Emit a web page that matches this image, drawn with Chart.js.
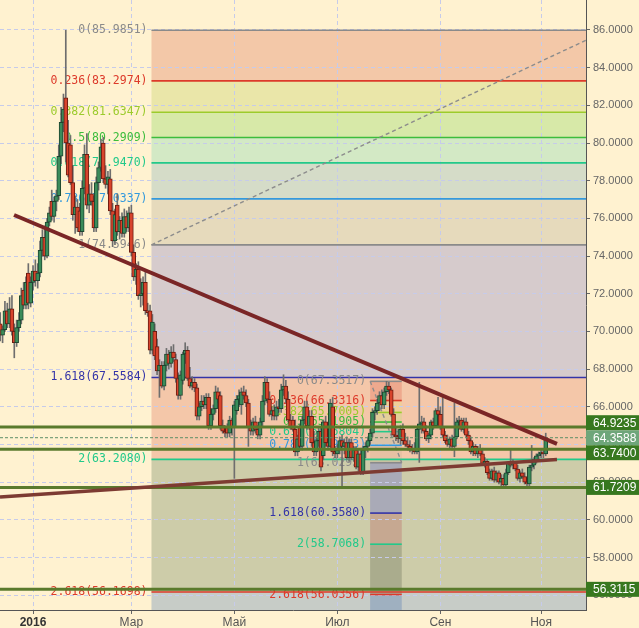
<!DOCTYPE html>
<html>
<head>
<meta charset="utf-8">
<script src="https://cdn.jsdelivr.net/npm/chart.js@4.4.1/dist/chart.umd.min.js"></script>
<style>
html, body { margin: 0; padding: 0; background: #fff2d0; overflow: hidden; }
canvas { display: block; }
</style>
</head>
<body>
<canvas id="chart" width="639" height="628"></canvas>
<script>
// bars are trading days, index 0 = 1 Jan 2016, first bar = 14 Dec 2015
const firstBar = -14;

const open = [
  70.4,69.8,70.1,71.1,70.4,71.2,70.0,69.4,70.2,70.6,
  72.2,71.4,73.1,71.5,72.6,73.2,72.7,73.1,74.3,75.0,
  74.0,75.8,76.9,76.1,76.9,77.2,79.3,81.1,82.4,80.0,
  79.9,77.9,76.2,76.6,76.4,75.3,77.6,79.4,76.7,77.3,
  76.9,75.5,77.9,78.7,80.0,78.1,77.8,78.1,76.4,74.8,
  76.7,75.3,75.9,75.2,76.1,75.5,76.3,74.2,72.9,73.3,
  71.9,72.0,72.6,71.1,71.1,69.0,70.0,69.2,67.9,68.2,
  67.1,68.2,68.8,68.3,68.9,68.5,67.5,66.6,67.4,68.8,
  69.0,67.5,67.1,67.3,67.0,65.5,66.0,66.3,66.1,66.5,
  65.0,65.6,65.9,66.8,66.6,65.0,64.7,64.9,64.6,65.3,
  64.9,65.8,66.4,66.1,66.8,66.6,66.2,64.9,64.7,65.2,
  64.8,64.5,65.2,66.3,67.3,66.4,65.6,65.8,65.5,66.0,
  65.9,66.9,67.1,66.4,65.3,65.3,64.8,63.6,64.9,63.9,
  65.3,66.0,65.0,65.5,64.1,63.6,64.2,64.7,63.4,65.2,
  64.1,63.9,66.0,63.6,63.5,63.7,64.2,63.9,64.1,63.3,
  64.1,63.3,63.7,62.8,63.5,62.5,63.7,63.9,64.2,64.6,
  65.7,65.8,66.2,66.6,66.1,66.8,67.1,66.9,65.6,64.5,
  64.4,64.3,64.8,64.2,64.0,63.9,63.7,63.8,63.6,64.8,
  65.1,65.2,64.7,64.3,64.5,65.2,65.0,65.8,65.6,64.9,
  64.5,64.2,64.0,64.3,63.9,64.4,65.2,65.3,64.8,65.2,
  64.5,64.2,63.6,63.9,63.5,63.8,63.5,63.0,63.1,62.5,
  62.2,62.6,62.1,62.5,62.0,62.2,61.85,62.5,63.0,62.9,
  63.0,62.7,62.2,62.5,62.3,62.0,61.9,62.8,62.9,63.1,
  63.4,63.5,63.6,63.5
];
const high = [
  71.0,70.3,71.6,71.5,71.8,71.9,70.4,70.6,71.0,72.3,
  72.6,72.9,73.6,72.9,73.5,73.8,73.6,74.8,75.4,75.6,
  76.0,76.6,77.5,77.1,77.5,79.9,81.9,82.6,85.9851,81.2,
  80.4,78.8,77.2,77.0,76.8,78.0,79.9,80.5,77.8,77.9,
  77.2,78.2,79.0,80.2,80.3,78.8,78.5,78.6,76.8,76.5,
  77.3,76.1,76.3,76.5,76.4,76.6,76.7,74.6,73.6,73.7,
  72.8,72.9,73.2,71.5,71.4,70.9,70.4,69.6,68.5,68.4,
  68.4,69.1,69.0,69.2,69.3,68.8,67.8,67.9,68.9,69.4,
  69.2,68.1,67.6,67.5,67.2,66.2,66.6,66.6,66.7,66.7,
  65.9,66.1,67.1,67.0,66.8,65.3,65.0,65.1,65.5,65.4,
  66.3,66.6,66.9,67.0,67.1,66.9,66.4,65.3,65.4,65.5,
  65.0,65.4,66.6,67.6,67.5,66.8,66.0,66.1,66.3,66.4,
  67.2,67.7,67.4,66.8,65.6,65.5,65.3,64.5,65.1,65.5,
  66.3,66.3,65.8,65.8,64.7,64.4,64.9,64.9,65.3,65.5,
  64.3,66.4,66.5,63.9,64.0,64.4,64.5,64.3,64.4,64.3,
  64.3,63.9,63.9,63.7,63.8,63.9,64.1,64.4,64.8,65.9,
  66.0,66.4,66.8,66.9,67.0,67.3517,67.3,67.0,65.9,64.9,
  64.8,65.0,65.1,64.6,64.4,64.2,64.0,64.1,64.9,67.3,
  65.5,65.4,65.0,64.6,65.3,65.4,65.9,66.5,66.0,66.5,
  64.7,64.5,64.4,64.5,66.2,65.4,65.5,65.4,65.4,65.4,
  64.7,64.4,64.1,64.0,63.9,64.0,63.8,63.3,63.2,62.7,
  62.7,62.8,62.6,62.6,62.4,62.4,62.7,63.1,63.75,63.2,
  63.1,62.9,62.6,62.7,62.5,62.2,62.9,63.95,63.3,63.5,
  63.6,63.8,63.7,64.6
];
const low = [
  69.5,69.4,70.0,70.2,70.2,69.8,68.6,69.2,70.0,70.4,
  71.2,71.2,71.2,71.3,72.2,72.4,72.3,72.9,74.0,73.8,
  73.9,75.6,75.9,75.8,76.4,77.0,78.9,80.6,79.0,78.2,
  77.8,75.9,75.2,75.3,75.1,75.1,77.3,76.5,76.3,76.7,
  75.3,75.3,77.5,78.5,77.9,77.6,77.3,76.2,74.5,74.6,
  75.1,74.9,75.0,75.0,75.3,75.3,74.0,72.7,72.5,71.7,
  71.3,71.4,70.9,70.8,68.8,68.8,68.5,67.7,66.5,67.0,
  66.9,67.9,68.0,68.1,68.4,67.3,66.4,66.4,67.2,68.3,
  67.4,67.0,66.9,66.8,65.3,65.3,65.8,65.9,65.9,64.8,
  64.8,65.3,65.7,66.2,64.8,64.6,64.4,64.4,64.4,64.5,
  62.2,65.6,66.0,65.6,66.4,66.0,63.9,64.5,64.5,64.6,
  64.3,64.3,65.0,66.1,66.2,65.5,65.3,65.3,65.3,65.7,
  65.7,66.6,66.2,65.2,64.8,64.7,63.4,63.4,63.7,63.7,
  65.1,64.8,64.8,63.9,63.4,63.4,63.9,62.6,63.2,63.9,
  63.7,63.7,63.4,63.3,63.3,63.5,61.75,63.5,63.2,63.1,
  63.2,63.1,62.7,62.6,62.4,62.4,63.3,63.6,64.0,64.4,
  65.3,65.6,65.8,65.9,65.9,66.6,66.7,65.5,64.4,64.2,
  64.1,64.0,64.0,63.9,63.7,63.6,63.5,63.5,63.5,63.05,
  64.6,64.6,64.2,64.1,64.3,64.8,64.9,65.5,64.8,64.4,
  64.1,63.9,63.8,63.7,63.35,64.3,64.9,64.7,64.6,64.4,
  64.0,63.5,63.4,63.4,63.3,63.4,62.9,62.8,62.4,62.1,
  62.1,62.0,62.0,61.9,61.8,61.75,61.8,62.4,62.8,62.7,
  62.6,62.1,62.0,62.2,61.9,61.8,61.8,62.6,62.7,63.0,
  63.2,63.3,63.3,63.4
];
const close = [
  69.8,70.1,71.1,70.4,71.2,70.0,69.4,70.2,70.6,71.9,
  71.4,72.6,71.5,72.6,73.2,72.7,73.1,74.3,75.0,74.0,
  75.8,76.3,76.1,76.9,77.2,79.3,81.1,81.8,80.0,78.3,
  77.9,76.2,76.6,75.5,75.3,77.6,79.4,76.7,77.3,76.9,
  75.5,77.9,78.7,79.8,78.1,77.8,78.2,76.4,74.8,76.2,
  75.3,75.9,75.2,76.1,75.5,76.3,74.2,72.9,73.3,71.9,
  72.0,72.6,71.1,71.0,69.0,70.5,68.7,67.9,68.2,67.1,
  68.2,68.8,68.3,68.9,68.6,67.5,66.6,67.7,68.8,69.0,
  67.5,67.1,67.3,67.0,65.5,66.0,66.3,66.1,66.5,65.0,
  65.6,65.9,66.8,66.4,65.0,64.7,64.6,64.6,65.3,64.9,
  66.1,66.4,66.6,66.8,66.6,66.2,64.9,64.7,65.2,64.8,
  64.5,65.2,66.3,67.3,66.4,65.6,65.8,65.5,66.0,65.9,
  66.9,67.1,66.4,65.3,64.9,64.8,63.6,64.3,63.9,65.3,
  66.0,65.0,65.5,64.1,63.6,64.2,64.7,62.8,65.2,64.1,
  63.9,66.2,63.6,63.5,63.7,64.2,63.9,64.1,63.3,64.1,
  63.3,63.7,62.8,63.5,62.5,63.7,63.9,64.2,64.6,65.7,
  65.8,66.2,66.6,66.1,66.8,67.1,66.9,65.6,64.5,64.4,
  64.3,64.8,64.2,64.0,63.9,63.7,63.8,63.6,64.8,65.1,
  65.2,64.7,64.3,64.5,65.2,65.0,65.8,65.6,64.9,64.5,
  64.2,64.0,64.3,63.9,64.4,65.2,65.3,64.8,65.2,64.5,
  64.2,63.6,63.9,63.5,63.8,63.5,63.0,63.1,62.5,62.2,
  62.6,62.1,62.5,62.0,62.2,61.85,62.5,63.0,62.9,63.0,
  62.7,62.2,62.5,62.3,62.0,61.9,62.8,62.9,63.2,63.4,
  63.5,63.6,63.5,64.3588
];

// x axis ticks: first trading day of the month
const monthBars = [0, 42, 86, 130, 174, 217];
const monthLabels = ['2016', 'Мар', 'Май', 'Июл', 'Сен', 'Ноя'];
const priceTicks = [56, 58, 60, 62, 64, 66, 68, 70, 72, 74, 76, 78, 80, 82, 84, 86];

// fibonacci levels
const fibRatios = ['0', '0.236', '0.382', '0.5', '0.618', '0.786', '1', '1.618', '2', '2.618'];
const fibBig = [85.9851, 83.2974, 81.6347, 80.2909, 78.9470, 77.0337, 74.5946, 67.5584, 63.2080, 56.1698];
const fibSmall = [67.3517, 66.3316, 65.7005, 65.1905, 64.6804, 63.9543, 63.0293, 60.3580, 58.7068, 56.0356];
const fibBigBars = [50.6, null];
const fibSmallBars = [144.0, 157.5];
const fibBigDiag = [[50.6, 74.5946], [245.2, 85.9851]];
const fibSmallDiag = [[144.0, 67.3517], [157.5, 63.0293]];

// horizontal levels and trend lines
const supportLevels = [64.9235, 63.7400, 61.7209, 56.3115];
const lastPrice = 64.3588;
const trendDown = [[-8.1, 76.18], [223.8, 64.03]];
const trendUp = [[-14.1, 61.21], [223.8, 63.20]];

const bars = open.map((o, i) => firstBar + i);

const levelColors = ['#8a8a8a', '#dd3a2a', '#9ccb2c', '#3cbd3c', '#22c98a', '#3399dd', '#8a8a8a', '#3434a8', '#22c98a', '#dd3a2a'];
const bigFills = ['#f3c8a8', '#eae6a9', '#d7e9a8', '#d3e9c5', '#d5dcc8', '#e6dabc', '#d6cbcc', '#f4c7a9', '#cdcca9', '#c7ccc7'];
const smallFills = ['rgba(232,140,115,0.5)', 'rgba(230,225,120,0.3)', 'rgba(190,225,120,0.3)', 'rgba(170,220,170,0.3)',
  'rgba(160,185,165,0.3)', 'rgba(200,180,150,0.3)', 'rgba(133,136,197,0.5)', 'rgba(191,132,121,0.5)',
  'rgba(135,140,113,0.5)', 'rgba(120,148,186,0.5)'];

function fibSpan(x, area, span) {
  const x0 = x.getPixelForValue(span[0]);
  const x1 = span[1] === null ? area.right : x.getPixelForValue(span[1]);
  return [x0, x1];
}

function drawZones(ctx, x, y, area, values, span, fills) {
  const [x0, x1] = fibSpan(x, area, span);
  values.forEach((v, i) => {
    const top = y.getPixelForValue(v);
    const bot = i + 1 < values.length ? y.getPixelForValue(values[i + 1]) : area.bottom;
    ctx.fillStyle = fills[i];
    ctx.fillRect(x0, top, x1 - x0, bot - top);
  });
}

function drawLevels(ctx, x, y, area, values, span) {
  const [x0, x1] = fibSpan(x, area, span);
  ctx.font = '11.5px "DejaVu Sans Mono", monospace';
  ctx.textAlign = 'right';
  ctx.textBaseline = 'middle';
  values.forEach((v, i) => {
    const py = y.getPixelForValue(v);
    ctx.strokeStyle = levelColors[i];
    ctx.lineWidth = 1.6;
    ctx.beginPath();
    ctx.moveTo(x0, py);
    ctx.lineTo(x1, py);
    ctx.stroke();
    ctx.fillStyle = levelColors[i];
    ctx.fillText(fibRatios[i] + '(' + v.toFixed(4) + ')', x0 - 4, py);
  });
}

function drawSegment(ctx, x, y, seg, color, width, dash) {
  ctx.strokeStyle = color;
  ctx.lineWidth = width;
  ctx.setLineDash(dash || []);
  ctx.beginPath();
  ctx.moveTo(x.getPixelForValue(seg[0][0]), y.getPixelForValue(seg[0][1]));
  ctx.lineTo(x.getPixelForValue(seg[1][0]), y.getPixelForValue(seg[1][1]));
  ctx.stroke();
  ctx.setLineDash([]);
}

function clipArea(ctx, a) {
  ctx.beginPath();
  ctx.rect(a.left, a.top, a.right - a.left, a.bottom - a.top);
  ctx.clip();
}

const fibPlugin = {
  id: 'fib',
  beforeDraw(chart) {
    const { ctx, chartArea: a, scales: { x, y } } = chart;
    ctx.save();
    ctx.fillStyle = '#fff2d0';
    ctx.fillRect(0, 0, chart.width, chart.height);
    clipArea(ctx, a);
    drawZones(ctx, x, y, a, fibBig, fibBigBars, bigFills);
    drawZones(ctx, x, y, a, fibSmall, fibSmallBars, smallFills);
    ctx.restore();
  },
  beforeDatasetsDraw(chart) {
    const { ctx, chartArea: a, scales: { x, y } } = chart;
    ctx.save();
    clipArea(ctx, a);
    drawLevels(ctx, x, y, a, fibBig, fibBigBars);
    drawLevels(ctx, x, y, a, fibSmall, fibSmallBars);
    drawSegment(ctx, x, y, fibBigDiag, '#8c8c8c', 1.4, [4, 3]);
    drawSegment(ctx, x, y, fibSmallDiag, '#8c8c8c', 1.4, [4, 3]);
    ctx.restore();
  },
  afterDatasetsDraw(chart) {
    const { ctx, chartArea: a, scales: { x, y } } = chart;
    ctx.save();
    clipArea(ctx, a);
    supportLevels.forEach(v => {
      const py = y.getPixelForValue(v);
      ctx.strokeStyle = '#5a7a2c';
      ctx.lineWidth = 3;
      ctx.beginPath();
      ctx.moveTo(a.left, py);
      ctx.lineTo(a.right, py);
      ctx.stroke();
    });
    const pl = y.getPixelForValue(lastPrice);
    ctx.strokeStyle = '#5e8e68';
    ctx.lineWidth = 1;
    ctx.setLineDash([3, 2]);
    ctx.beginPath();
    ctx.moveTo(a.left, pl);
    ctx.lineTo(a.right, pl);
    ctx.stroke();
    ctx.setLineDash([]);
    drawSegment(ctx, x, y, trendDown, '#7a2626', 4);
    drawSegment(ctx, x, y, trendUp, '#7d3b32', 3.5);
    ctx.restore();
  },
  afterDraw(chart) {
    const { ctx, chartArea: a, scales: { y } } = chart;
    ctx.save();
    ctx.font = '12px "Liberation Sans", Arial, sans-serif';
    ctx.textAlign = 'left';
    ctx.textBaseline = 'middle';
    const boxH = 15;
    const pLast = y.getPixelForValue(lastPrice);
    const boxes = supportLevels.map(v => {
      let py = y.getPixelForValue(v);
      // keep the level tags from covering the last-price tag
      if (Math.abs(py - pLast) < boxH) py = py < pLast ? pLast - boxH : pLast + boxH;
      return [v, py, '#37781f'];
    }).concat([[lastPrice, pLast, '#6ea67a']]);
    boxes.forEach(([v, py, col]) => {
      ctx.fillStyle = col;
      ctx.fillRect(a.right, py - boxH / 2, chart.width - a.right, boxH);
      ctx.fillStyle = '#ffffff';
      ctx.fillText(v.toFixed(4), a.right + 7, py + 0.5);
    });
    ctx.restore();
  }
};

const gridColor = '#c6cbea';

new Chart(document.getElementById('chart'), {
  type: 'bar',
  data: {
    datasets: [
      {
        label: 'wick',
        data: bars.map((b, i) => ({ x: b, y: [low[i], high[i]] })),
        backgroundColor: '#6e6e6e',
        borderWidth: 0,
        barThickness: 1,
        grouped: false,
        order: 2
      },
      {
        label: 'body',
        data: bars.map((b, i) => ({ x: b, y: [open[i], close[i]] })),
        backgroundColor: close.map((c, i) => c >= open[i] ? '#3b8c5a' : '#d8442c'),
        borderColor: close.map((c, i) => c >= open[i] ? '#1d4630' : '#6b1c12'),
        borderWidth: 1,
        borderSkipped: false,
        barThickness: 4,
        minBarLength: 1,
        grouped: false,
        order: 1
      }
    ]
  },
  options: {
    responsive: false,
    devicePixelRatio: 1,
    animation: false,
    events: [],
    layout: { padding: 0 },
    plugins: { legend: { display: false }, tooltip: { enabled: false } },
    scales: {
      x: {
        type: 'linear',
        min: -14.1,
        max: 236.2,
        offset: false,
        afterBuildTicks: s => { s.ticks = monthBars.map(v => ({ value: v })); },
        afterFit: s => { s.height = 18; s.paddingLeft = 0; s.paddingRight = 0; },
        grid: { color: gridColor, offset: false, tickLength: 4, tickColor: '#666' },
        border: { display: true, color: '#555', width: 1, dash: [4, 3] },
        ticks: {
          autoSkip: false,
          maxRotation: 0,
          padding: 1,
          font: c => ({ family: '"Liberation Sans", Arial, sans-serif', size: 12, weight: c.index === 0 ? 'bold' : 'normal' }),
          color: c => c.index === 0 ? '#333' : '#555',
          callback: v => monthLabels[monthBars.indexOf(v)]
        }
      },
      y: {
        position: 'right',
        min: 55.214,
        max: 87.592,
        beginAtZero: false,
        afterBuildTicks: s => { s.ticks = priceTicks.map(v => ({ value: v })); },
        afterFit: s => { s.width = 53; s.paddingTop = 0; s.paddingBottom = 0; },
        grid: { color: gridColor, tickLength: 4, tickColor: '#666' },
        border: { display: true, color: '#555', width: 1, dash: [4, 3] },
        ticks: {
          padding: 3,
          font: { family: '"Liberation Sans", Arial, sans-serif', size: 11 },
          color: '#666',
          callback: v => v.toFixed(4)
        }
      }
    }
  },
  plugins: [fibPlugin]
});
</script>
</body>
</html>
